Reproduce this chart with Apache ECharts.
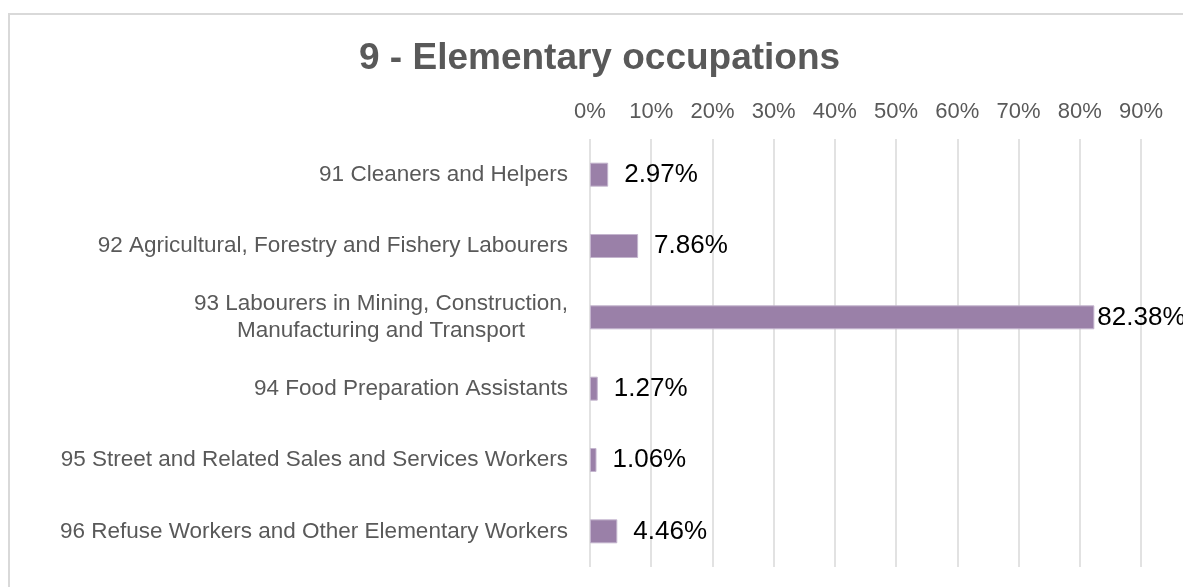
<!DOCTYPE html>
<html>
<head>
<meta charset="utf-8">
<script src="https://cdn.jsdelivr.net/npm/echarts@6/dist/echarts.min.js"></script>
<style>
    html, body { margin: 0; padding: 0; background: #fff; }
    #chart { width: 1183px; height: 587px; }
</style>
</head>
<body>
<div id="chart"></div>
<script>
var chartTitle = '9 - Elementary occupations';
var categories = [
    '91 Cleaners and Helpers',
    '92 Agricultural, Forestry and Fishery Labourers',
    '93 Labourers in Mining, Construction,\nManufacturing and Transport',
    '94 Food Preparation Assistants',
    '95 Street and Related Sales and Services Workers',
    '96 Refuse Workers and Other Elementary Workers'
];
var shares = [2.97, 7.86, 82.38, 1.27, 1.06, 4.46];
var axisMin = 0;
var axisMax = 90;
var axisStep = 10;

(function() {
    var myChart = echarts.init(document.getElementById('chart'));
    var font = "'Liberation Sans', Arial, sans-serif";

    // long bar label sits close to its bar, like the original
    var barData = shares.map(function(v) {
        return {
            value: v,
            label: { distance: v > 80 ? 3 : 16 }
        };
    });

    var option = {
        animation: false,
        backgroundColor: '#fff',
        title: {
            text: chartTitle,
            left: 354,
            top: 35,
            textStyle: {
                fontFamily: font,
                fontSize: 37,
                fontWeight: 'bold',
                color: '#595959'
            }
        },
        graphic: [{
            type: 'rect',
            shape: { x: 9, y: 14, width: 1400, height: 800 },
            style: { fill: 'none', stroke: '#d9d9d9', lineWidth: 2 },
            silent: true
        }],
        grid: {
            left: 590,
            right: 42,
            top: 139,
            bottom: 20
        },
        xAxis: {
            type: 'value',
            position: 'top',
            min: axisMin,
            max: axisMax,
            interval: axisStep,
            axisLine: { show: false },
            axisTick: { show: false },
            axisLabel: {
                formatter: '{value}%',
                margin: 16,
                fontFamily: font,
                fontSize: 22,
                color: '#595959'
            },
            splitLine: {
                lineStyle: { color: '#d9d9d9', width: 1.5 }
            }
        },
        yAxis: {
            type: 'category',
            inverse: true,
            data: categories,
            axisLine: { show: false },
            axisTick: { show: false },
            axisLabel: {
                margin: 22,
                fontFamily: font,
                fontSize: 22.5,
                color: '#595959',
                lineHeight: 27,
                formatter: function(v) {
                    return v.split('\n').map(function(s) {
                        return '{c|' + s + '}';
                    }).join('\n');
                },
                rich: {
                    c: {
                        align: 'center',
                        fontFamily: font,
                        fontSize: 22.5,
                        color: '#595959',
                        lineHeight: 27
                    }
                }
            }
        },
        series: [{
            type: 'bar',
            data: barData,
            barWidth: 24,
            itemStyle: {
                color: '#9a80a8',
                borderColor: '#c4b5ce',
                borderWidth: 1
            },
            label: {
                show: true,
                position: 'right',
                formatter: function(p) {
                    return p.value.toFixed(2) + '%';
                },
                fontFamily: font,
                fontSize: 26,
                color: '#000'
            }
        }]
    };
    myChart.setOption(option);
})();
</script>
</body>
</html>
